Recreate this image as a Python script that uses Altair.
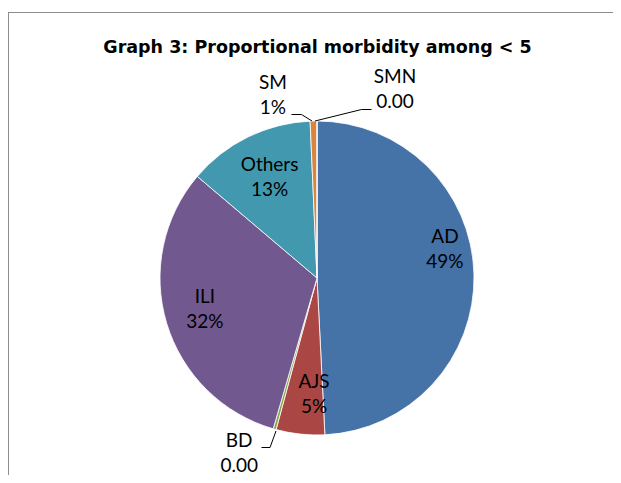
import math
import altair as alt
import pandas as pd

# ---- data ----
categories = ["AD", "AJS", "BD", "ILI", "Others", "SM", "SMN"]
values = [49.2, 5.0, 0.3, 31.7, 13.1, 0.7, 0.0]
pct_labels = ["49%", "5%", "0.00", "32%", "13%", "1%", "0.00"]
colors = ["#4572A7", "#AA4643", "#89A54E", "#71588F", "#4198AF", "#DB843D", "#93A9CF"]
title_text = "Graph 3: Proportional  morbidity among < 5"

df = pd.DataFrame({
    "cat": categories,
    "value": values,
    "pct": pct_labels,
    "order": list(range(len(categories))),
})

W, H = 605, 467
CX, CY, R = 309, 270, 157
FONT = "Lato"
total = sum(values)
theta_scale = alt.Scale(domain=[0, total], range=[0, 2 * math.pi])

base = (
    alt.Chart(df)
    .transform_stack(stack="value", groupby=[], as_=["s0", "s1"],
                     sort=[alt.SortField("order", order="ascending")])
    .transform_calculate(mid="(datum.s0 + datum.s1) / 2",
                         label="[datum.cat, datum.pct]")
)

arcs = base.mark_arc(outerRadius=R, stroke="white", strokeWidth=0.8).encode(
    theta=alt.Theta("s0:Q", scale=theta_scale),
    theta2="s1:Q",
    color=alt.Color("cat:N", scale=alt.Scale(domain=categories, range=colors), legend=None),
    x=alt.value(CX),
    y=alt.value(CY),
)

# label placement: (radius, dx, dy) per category
LINE_SHIFT = -12.5
placement = {
    "AD": (128, 0, -25),
    "AJS": (117, 9.5, 0.5),
    "BD": (181, -29, 1),
    "ILI": (117, 0, -2),
    "Others": (110, 1, -2),
    "SM": (183, -40, 0.5),
    "SMN": (188.5, 78, 0),
}

label_layers = []
for c in categories:
    r, dx, dy = placement[c]
    label_layers.append(
        base.transform_filter(alt.datum.cat == c)
        .mark_text(font=FONT, fontSize=19, lineHeight=25, align="center",
                   baseline="middle", radius=r, dx=dx, dy=dy + LINE_SHIFT, color="black")
        .encode(
            theta=alt.Theta("mid:Q", scale=theta_scale),
            text="label:N",
            x=alt.value(CX),
            y=alt.value(CY),
        )
    )

one = alt.Data(values=[{}])

title = alt.Chart(one).mark_text(
    text=title_text, font="DejaVu Sans", fontSize=17.5, fontWeight="bold",
    align="center", baseline="middle", color="black"
).encode(x=alt.value(CX + 0.5), y=alt.value(40))


def seg(x1, y1, x2, y2, color="black", width=1):
    return alt.Chart(one).mark_rule(color=color, strokeWidth=width).encode(
        x=alt.value(x1), y=alt.value(y1), x2=alt.value(x2), y2=alt.value(y2)
    )


leaders = [
    seg(283.5, 106.5, 293.5, 106.5), seg(293.5, 106.5, 304, 113),
    seg(307, 113, 353.5, 101.5), seg(353.5, 101.5, 363.5, 101.5),
    seg(253.5, 439.5, 262, 439.5), seg(262, 439.5, 268, 423),
]

frame = [
    seg(0, 4.5, W, 4.5, color="#8c8c8c"),
    seg(0.5, 4.5, 0.5, H, color="#8c8c8c"),
]

chart = alt.layer(arcs, *label_layers, title, *leaders, *frame).properties(
    width=W, height=H,
    autosize=alt.AutoSizeParams(type="none"),
    padding=0,
    background="white",
).configure_view(stroke=None)

chart.save("out.html", embed_options={"renderer": "svg", "actions": False})
